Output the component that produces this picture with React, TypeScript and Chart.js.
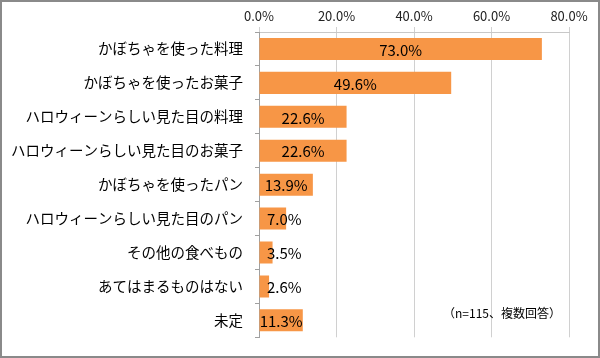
import React, { useEffect, useRef } from "react";
import { Chart, registerables } from "chart.js";

Chart.register(...registerables);

const categories = [
  "かぼちゃを使った料理",
  "かぼちゃを使ったお菓子",
  "ハロウィーンらしい見た目の料理",
  "ハロウィーンらしい見た目のお菓子",
  "かぼちゃを使ったパン",
  "ハロウィーンらしい見た目のパン",
  "その他の食べもの",
  "あてはまるものはない",
  "未定",
];
const values = [73.0, 49.6, 22.6, 22.6, 13.9, 7.0, 3.5, 2.6, 11.3];
const axisMax = 80;
const axisStep = 20;
const noteText = "（n=115、複数回答）";

const FONT = "'Noto Sans CJK JP', 'Noto Sans', sans-serif";

const framePlugin = {
  id: "frame",
  afterDraw(chart: any) {
    const ctx = chart.ctx;
    ctx.save();
    ctx.strokeStyle = "#8a8a8a";
    ctx.lineWidth = 2;
    ctx.strokeRect(1, 1, chart.width - 2, chart.height - 2);
    ctx.restore();
  },
};

const labelPlugin = {
  id: "barLabels",
  afterDatasetsDraw(chart: any) {
    const ctx = chart.ctx;
    const meta = chart.getDatasetMeta(0);
    const left = chart.chartArea.left;
    ctx.save();
    ctx.font = `15px ${FONT}`;
    ctx.fillStyle = "#000";
    ctx.textBaseline = "middle";
    ctx.textAlign = "left";
    meta.data.forEach((bar: any, i: number) => {
      const txt = values[i].toFixed(1) + "%";
      const w = ctx.measureText(txt).width;
      const bw = Math.abs(bar.x - bar.base);
      const center = (bar.base + bar.x) / 2;
      const x = bw >= w ? center - w / 2 : left + 8;
      ctx.fillText(txt, x, bar.y + 1);
    });
    ctx.font = `12px ${FONT}`;
    ctx.fillText(noteText, 443, 313);
    ctx.restore();
  },
};

export default function App() {
  const ref = useRef<HTMLCanvasElement | null>(null);
  useEffect(() => {
    if (!ref.current) return;
    const chart = new Chart(ref.current, {
      type: "bar",
      data: {
        labels: categories,
        datasets: [
          {
            data: values,
            backgroundColor: "#F79646",
            borderWidth: 0,
            barPercentage: 0.65,
            categoryPercentage: 1,
          },
        ],
      },
      options: {
        indexAxis: "y",
        animation: false,
        responsive: false,
        maintainAspectRatio: false,
        layout: { padding: { left: 0, right: 31, top: 0, bottom: 15 } },
        plugins: {
          legend: { display: false },
          tooltip: { enabled: false },
        },
        scales: {
          x: {
            position: "top",
            min: 0,
            max: axisMax,
            ticks: {
              stepSize: axisStep,
              color: "#222",
              font: { family: FONT, size: 13 },
              padding: 3,
              callback: (v: any) => Number(v).toFixed(1) + "%",
            },
            grid: { color: "#d0d0d0", tickLength: 5, lineWidth: 1 },
            border: { color: "#c8c8c8" },
            afterFit: (s: any) => {
              s.height = 32;
            },
          },
          y: {
            ticks: {
              color: "#000",
              font: { family: FONT, size: 14.5 },
              padding: 12,
            },
            grid: {
              display: true,
              drawOnChartArea: false,
              offset: true,
              tickLength: 4,
              color: "#a0a0a0",
            },
            border: { color: "#a0a0a0" },
            afterFit: (s: any) => {
              s.width = 259;
            },
          },
        },
      },
      plugins: [labelPlugin, framePlugin],
    });
    return () => chart.destroy();
  }, []);
  return (
    <div style={{ position: "fixed", left: 0, top: 0, width: 600, height: 358, background: "#fff" }}>
      <canvas ref={ref} width={600} height={358} style={{ width: 600, height: 358, display: "block" }} />
    </div>
  );
}
